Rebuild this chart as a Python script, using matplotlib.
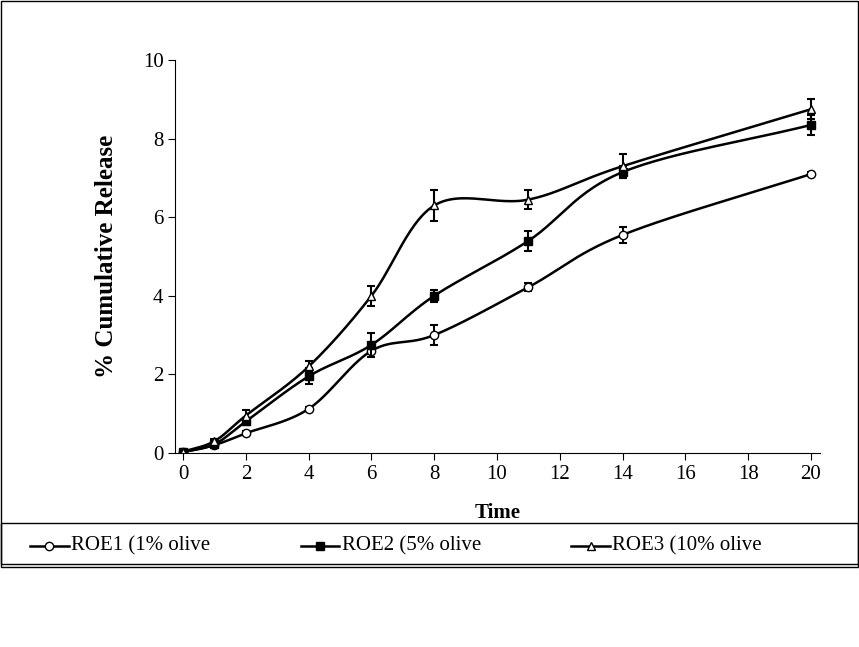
import numpy as np
import matplotlib
matplotlib.use("Agg")
import matplotlib.pyplot as plt
from matplotlib.patches import Rectangle
from matplotlib.lines import Line2D

plt.rcParams['font.family'] = ['Liberation Serif', 'DejaVu Serif']

time = [0, 1, 2, 4, 6, 8, 11, 14, 20]
roe1 = [0.02, 0.2, 0.5, 1.12, 2.6, 3.0, 4.22, 5.55, 7.1]
roe2 = [0.02, 0.22, 0.8, 1.95, 2.75, 4.0, 5.4, 7.15, 8.35]
roe3 = [0.03, 0.3, 0.95, 2.2, 4.0, 6.3, 6.45, 7.3, 8.75]
err1 = [0.05, 0.05, 0.05, 0.05, 0.08, 0.25, 0.1, 0.2, 0.05]
err2 = [0.05, 0.05, 0.1, 0.2, 0.3, 0.15, 0.25, 0.15, 0.25]
err3 = [0.05, 0.05, 0.15, 0.15, 0.25, 0.4, 0.25, 0.3, 0.25]
labels = ['ROE1 (1% olive', 'ROE2 (5% olive', 'ROE3 (10% olive']
markers = ['o', 's', '^']
fills = ['white', 'black', 'white']

def catmull(x, y, n=30):
    x = np.asarray(x, float); y = np.asarray(y, float)
    px = np.concatenate([[2*x[0]-x[1]], x, [2*x[-1]-x[-2]]])
    py = np.concatenate([[2*y[0]-y[1]], y, [2*y[-1]-y[-2]]])
    xs, ys = [], []
    for i in range(1, len(px)-2):
        t = np.linspace(0, 1, n)[:, None]
        P = [np.array([px[k], py[k]]) for k in (i-1, i, i+1, i+2)]
        b0 = P[1]; b1 = P[1] + (P[2]-P[0])/6; b2 = P[2] - (P[3]-P[1])/6; b3 = P[2]
        c = (1-t)**3*b0 + 3*(1-t)**2*t*b1 + 3*(1-t)*t**2*b2 + t**3*b3
        xs.extend(c[:, 0]); ys.extend(c[:, 1])
    return xs, ys

fig = plt.figure(figsize=(8.59, 6.47), dpi=100)
ax = fig.add_axes([0.204, 0.30, 0.751, 0.607])
for y, e, m, f in zip([roe1, roe2, roe3], [err1, err2, err3], markers, fills):
    sx, sy = catmull(time, y)
    ax.plot(sx, sy, color='black', lw=1.8)
    ax.errorbar(time, y, yerr=e, fmt='none', ecolor='black', elinewidth=1.5, capsize=3, capthick=1.5)
    ax.plot(time, y, linestyle='none', marker=m, markersize=6, markerfacecolor=f,
            markeredgecolor='black', markeredgewidth=1)
ax.set_xlim(-0.25, 20.3)
ax.set_ylim(0, 10)
ax.set_xticks(range(0, 21, 2))
ax.set_yticks(range(0, 11, 2))
ax.spines['top'].set_visible(False)
ax.spines['right'].set_visible(False)
ax.tick_params(labelsize=15, direction='out', length=5)
ax.set_xlabel('Time', fontsize=15, fontweight='bold', labelpad=14)
ax.set_ylabel('% Cumulative Release', fontsize=18, fontweight='bold', labelpad=18)

fig.patches.append(Rectangle((0.001, 0.128), 0.998, 0.87, transform=fig.transFigure,
                             fill=False, edgecolor='black', lw=1))
fig.patches.append(Rectangle((0.001, 0.124), 0.998, 0.068, transform=fig.transFigure,
                             fill=False, edgecolor='black', lw=1))
xs = [0.035, 0.35, 0.665]
for x0, lab, m, f in zip(xs, labels, markers, fills):
    fig.lines.append(Line2D([x0, x0+0.045], [0.156, 0.156], transform=fig.transFigure, color='black', lw=1.8))
    fig.lines.append(Line2D([x0+0.0225], [0.156], transform=fig.transFigure, marker=m, markersize=6,
                            markerfacecolor=f, markeredgecolor='black', linestyle='none'))
    fig.text(x0+0.048, 0.156, lab, fontsize=15, va='center')
fig.savefig('out.png', dpi=100, facecolor='white')
